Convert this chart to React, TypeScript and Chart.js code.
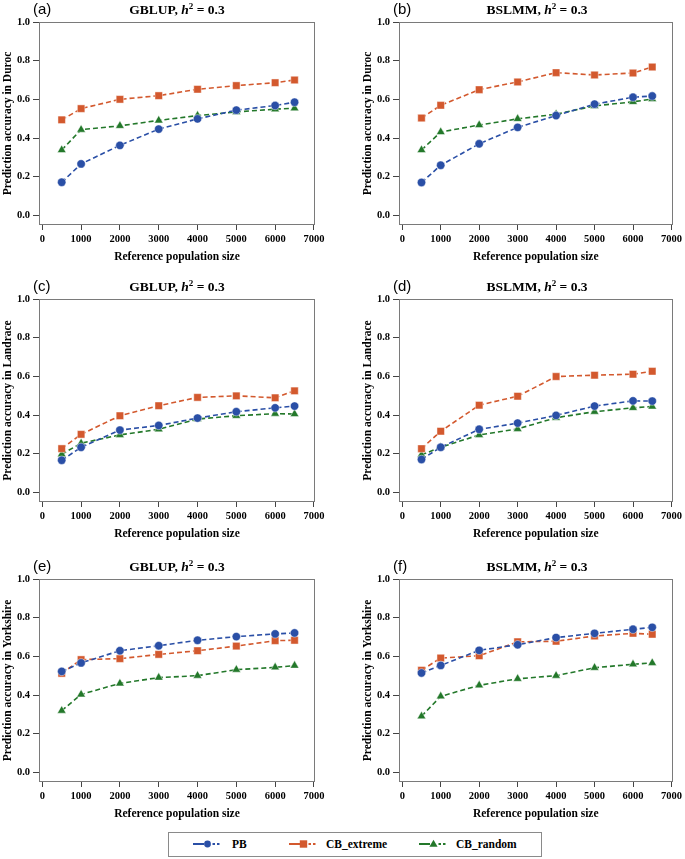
import React, { useEffect, useRef } from 'react';
import { Chart, registerables } from 'chart.js';

Chart.register(...registerables);

// ---------- data ----------
const popSizes = [500, 1000, 2000, 3000, 4000, 5000, 6000, 6500];
const xTickValues = [0, 1000, 2000, 3000, 4000, 5000, 6000, 7000];
const yTickValues = [0, 0.2, 0.4, 0.6, 0.8, 1.0];
const seriesNames = ['PB', 'CB_extreme', 'CB_random'];

// (a) Duroc, GBLUP
const durocGblupPB = [0.171, 0.266, 0.362, 0.446, 0.499, 0.544, 0.568, 0.585];
const durocGblupExtreme = [0.494, 0.552, 0.6, 0.619, 0.652, 0.671, 0.686, 0.7];
const durocGblupRandom = [0.338, 0.443, 0.463, 0.491, 0.516, 0.535, 0.549, 0.554];
// (b) Duroc, BSLMM
const durocBslmmPB = [0.17, 0.259, 0.37, 0.455, 0.516, 0.575, 0.611, 0.617];
const durocBslmmExtreme = [0.503, 0.569, 0.65, 0.69, 0.738, 0.726, 0.736, 0.767];
const durocBslmmRandom = [0.338, 0.431, 0.467, 0.499, 0.523, 0.566, 0.587, 0.602];
// (c) Landrace, GBLUP
const landraceGblupPB = [0.166, 0.233, 0.322, 0.346, 0.384, 0.417, 0.437, 0.446];
const landraceGblupExtreme = [0.226, 0.3, 0.396, 0.448, 0.491, 0.499, 0.489, 0.525];
const landraceGblupRandom = [0.197, 0.254, 0.297, 0.326, 0.379, 0.396, 0.407, 0.405];
// (d) Landrace, BSLMM
const landraceBslmmPB = [0.17, 0.233, 0.326, 0.358, 0.398, 0.446, 0.473, 0.472];
const landraceBslmmExtreme = [0.226, 0.316, 0.451, 0.497, 0.599, 0.606, 0.611, 0.626];
const landraceBslmmRandom = [0.194, 0.233, 0.297, 0.328, 0.386, 0.417, 0.437, 0.444];
// (e) Yorkshire, GBLUP
const yorkshireGblupPB = [0.522, 0.566, 0.629, 0.655, 0.683, 0.702, 0.716, 0.721];
const yorkshireGblupExtreme = [0.512, 0.583, 0.588, 0.61, 0.629, 0.653, 0.681, 0.683];
const yorkshireGblupRandom = [0.319, 0.403, 0.46, 0.49, 0.5, 0.531, 0.543, 0.552];
// (f) Yorkshire, BSLMM
const yorkshireBslmmPB = [0.514, 0.553, 0.631, 0.66, 0.697, 0.719, 0.74, 0.75];
const yorkshireBslmmExtreme = [0.528, 0.591, 0.603, 0.675, 0.678, 0.705, 0.719, 0.714];
const yorkshireBslmmRandom = [0.29, 0.393, 0.45, 0.484, 0.5, 0.541, 0.559, 0.566];

// ---------- styling ----------
const COLORS = ['#2A4FA6', '#D3592E', '#23782A'];
const POINT_STYLES = ['circle', 'rect', 'triangle'];
const POINT_RADII = [4.2, 5.3, 5];
const SERIF = '"Liberation Serif", "Times New Roman", serif';
const SANS = '"Liberation Sans", Arial, sans-serif';

const BOX_W = 276;
const BOX_H = 203;
const Y_AXIS_W = 39;
const X_AXIS_H = 39;
const PAD_TOP = 22;
const COL_LEFT = [39, 399];
const ROW_TOP = [22, 299, 579];
const PAD_RIGHT = [24, 10];

type PanelCfg = {
  label: string;
  method: string;
  breed: string;
  col: number;
  row: number;
  series: number[][];
};

const panels: PanelCfg[] = [
  { label: '(a)', method: 'GBLUP', breed: 'Duroc', col: 0, row: 0, series: [durocGblupPB, durocGblupExtreme, durocGblupRandom] },
  { label: '(b)', method: 'BSLMM', breed: 'Duroc', col: 1, row: 0, series: [durocBslmmPB, durocBslmmExtreme, durocBslmmRandom] },
  { label: '(c)', method: 'GBLUP', breed: 'Landrace', col: 0, row: 1, series: [landraceGblupPB, landraceGblupExtreme, landraceGblupRandom] },
  { label: '(d)', method: 'BSLMM', breed: 'Landrace', col: 1, row: 1, series: [landraceBslmmPB, landraceBslmmExtreme, landraceBslmmRandom] },
  { label: '(e)', method: 'GBLUP', breed: 'Yorkshire', col: 0, row: 2, series: [yorkshireGblupPB, yorkshireGblupExtreme, yorkshireGblupRandom] },
  { label: '(f)', method: 'BSLMM', breed: 'Yorkshire', col: 1, row: 2, series: [yorkshireBslmmPB, yorkshireBslmmExtreme, yorkshireBslmmRandom] },
];

const framePlugin = {
  id: 'frame',
  afterDatasetsDraw(chart: any) {
    const { ctx, chartArea: a } = chart;
    ctx.save();
    ctx.strokeStyle = '#7a7a7a';
    ctx.lineWidth = 1;
    const l = Math.round(a.left) + 0.5;
    const t = Math.round(a.top) + 0.5;
    const r = Math.round(a.right) - 0.5;
    const b = Math.round(a.bottom) - 0.5;
    ctx.strokeRect(l, t, r - l, b - t);
    ctx.restore();
  },
};

function Panel({ cfg }: { cfg: PanelCfg }) {
  const ref = useRef<HTMLCanvasElement | null>(null);
  const width = Y_AXIS_W + BOX_W + PAD_RIGHT[cfg.col];
  const height = PAD_TOP + BOX_H + X_AXIS_H;
  const left = COL_LEFT[cfg.col] - Y_AXIS_W;
  const top = ROW_TOP[cfg.row] - PAD_TOP;

  useEffect(() => {
    if (!ref.current) return;
    const tickFont = { family: SERIF, size: 10.5, weight: 'bold' as const };
    const titleFont = { family: SERIF, size: 11.5, weight: 'bold' as const };
    const chart = new Chart(ref.current, {
      type: 'line',
      data: {
        datasets: cfg.series.map((vals, si) => ({
          label: seriesNames[si],
          data: popSizes.map((x, i) => ({ x, y: vals[i] })),
          borderColor: COLORS[si],
          backgroundColor: COLORS[si],
          borderWidth: 1.6,
          borderDash: [5, 3],
          pointStyle: POINT_STYLES[si] as any,
          pointRadius: POINT_RADII[si],
          pointBackgroundColor: COLORS[si],
          pointBorderColor: 'rgba(255,255,255,0.45)',
          pointBorderWidth: 1,
          tension: 0,
          fill: false,
        })),
      },
      options: {
        animation: false,
        responsive: false,
        maintainAspectRatio: false,
        layout: { padding: { top: PAD_TOP, right: PAD_RIGHT[cfg.col], left: 0, bottom: 0 } },
        plugins: {
          legend: { display: false },
          tooltip: { enabled: false },
          title: { display: false },
        },
        scales: {
          x: {
            type: 'linear',
            min: -85,
            max: 7027,
            afterBuildTicks: (s: any) => {
              s.ticks = xTickValues.map((v) => ({ value: v }));
            },
            afterFit: (s: any) => {
              s.height = X_AXIS_H;
            },
            grid: { drawOnChartArea: false, drawTicks: true, tickLength: 5, color: '#444', lineWidth: 1 },
            border: { display: false },
            ticks: {
              font: tickFont,
              color: '#000',
              padding: 3,
              maxRotation: 0,
              minRotation: 0,
              autoSkip: false,
              callback: (v: any) => String(v),
            },
            title: {
              display: true,
              text: 'Reference population size',
              font: titleFont,
              color: '#000',
              padding: 0,
            },
          },
          y: {
            type: 'linear',
            min: -0.05,
            max: 1.0,
            afterBuildTicks: (s: any) => {
              s.ticks = yTickValues.map((v) => ({ value: v }));
            },
            afterFit: (s: any) => {
              s.width = Y_AXIS_W;
            },
            grid: { drawOnChartArea: false, drawTicks: true, tickLength: 6, color: '#444', lineWidth: 1 },
            border: { display: false },
            ticks: {
              font: tickFont,
              color: '#000',
              padding: 3,
              autoSkip: false,
              callback: (v: any) => Number(v).toFixed(1),
            },
            title: {
              display: true,
              text: 'Prediction accuracy in ' + cfg.breed,
              font: titleFont,
              color: '#000',
              padding: { top: 1, bottom: 0 },
            },
          },
        },
      },
      plugins: [framePlugin],
    } as any);
    return () => chart.destroy();
  }, []);

  const boxLeft = COL_LEFT[cfg.col];
  const rowTop = ROW_TOP[cfg.row];

  return (
    <>
      <canvas
        ref={ref}
        width={width}
        height={height}
        style={{ position: 'absolute', left, top, width, height, display: 'block' }}
      />
      <div
        style={{
          position: 'absolute',
          left: boxLeft,
          width: BOX_W,
          top: rowTop - 12 - 8,
          height: 16,
          lineHeight: '16px',
          textAlign: 'center',
          fontFamily: SERIF,
          fontWeight: 'bold',
          fontSize: '13.5px',
          color: '#000',
          whiteSpace: 'nowrap',
        }}
      >
        {cfg.method}, <i>h</i>
        <span style={{ fontSize: '9px', position: 'relative', top: '-5px' }}>2</span> = 0.3
      </div>
      <div
        style={{
          position: 'absolute',
          left: boxLeft - 6,
          top: rowTop - 13 - 9,
          height: 18,
          lineHeight: '18px',
          fontFamily: SANS,
          fontSize: '15px',
          color: '#000',
          whiteSpace: 'nowrap',
        }}
      >
        {cfg.label}
      </div>
    </>
  );
}

function LegendSymbol({ index }: { index: number }) {
  const c = COLORS[index];
  let marker: React.ReactNode;
  if (index === 0) marker = <circle cx={14.5} cy={6} r={3.4} fill={c} />;
  else if (index === 1) marker = <rect x={10.8} y={2.3} width={7.4} height={7.4} fill={c} />;
  else marker = <polygon points="14.5,1.8 18.6,8.8 10.4,8.8" fill={c} />;
  return (
    <svg width={28} height={12} style={{ position: 'absolute', left: 0, top: 0 }}>
      <line x1={0} y1={6} x2={11} y2={6} stroke={c} strokeWidth={2} />
      <line x1={19.5} y1={6} x2={22} y2={6} stroke={c} strokeWidth={2} />
      <line x1={24} y1={6} x2={26.5} y2={6} stroke={c} strokeWidth={2} />
      {marker}
    </svg>
  );
}

const legendSymbolLeft = [25, 121, 251];
const legendTextLeft = [64, 158, 288];

function Legend() {
  return (
    <div
      style={{
        position: 'absolute',
        left: 168,
        top: 832,
        width: 374,
        height: 25,
        border: '1px solid #8a8a8a',
        boxSizing: 'border-box',
        background: '#fff',
      }}
    >
      {seriesNames.map((name, i) => (
        <React.Fragment key={name}>
          <div style={{ position: 'absolute', left: legendSymbolLeft[i] - 1, top: 5, width: 28, height: 12 }}>
            <LegendSymbol index={i} />
          </div>
          <div
            style={{
              position: 'absolute',
              left: legendTextLeft[i] - 1,
              top: 3,
              height: 16,
              lineHeight: '16px',
              fontFamily: SERIF,
              fontWeight: 'bold',
              fontSize: '11.5px',
              color: '#000',
              whiteSpace: 'nowrap',
            }}
          >
            {name}
          </div>
        </React.Fragment>
      ))}
    </div>
  );
}

export default function App() {
  return (
    <div
      style={{
        position: 'absolute',
        left: 0,
        top: 0,
        width: 685,
        height: 859,
        overflow: 'hidden',
        background: '#fff',
      }}
    >
      {panels.map((p) => (
        <Panel key={p.label} cfg={p} />
      ))}
      <Legend />
    </div>
  );
}
